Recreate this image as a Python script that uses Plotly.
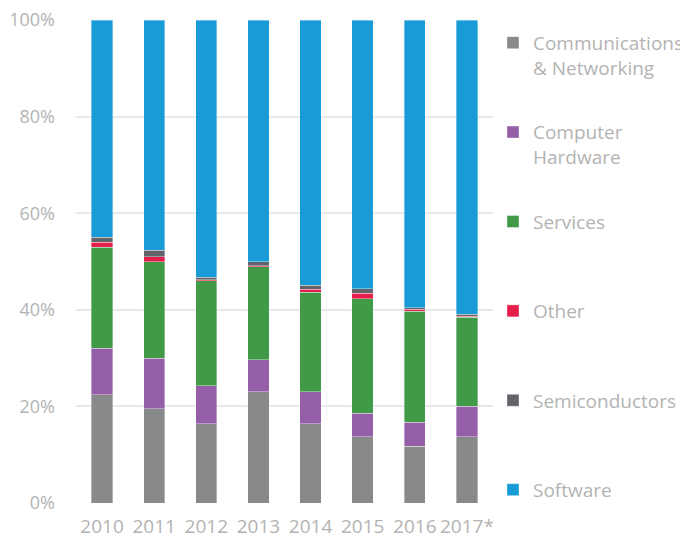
import plotly.graph_objects as go

years = ['2010', '2011', '2012', '2013', '2014', '2015', '2016', '2017*']

# share of deals per sector, % (stacked bottom to top)
comm = [22.4, 19.5, 16.4, 23.0, 16.4, 13.7, 11.7, 13.7]
hardware = [9.6, 10.5, 7.9, 6.7, 6.6, 4.9, 5.0, 6.3]
services = [21.0, 20.0, 21.7, 19.2, 20.6, 23.7, 23.0, 18.5]
other = [1.0, 1.0, 0.2, 0.2, 0.7, 1.1, 0.4, 0.2]
semis = [1.0, 1.3, 0.5, 0.9, 0.8, 1.0, 0.3, 0.4]
software = [45.0, 47.7, 53.3, 50.0, 54.9, 55.6, 59.6, 60.9]

series = [
    ('Communications<br>& Networking', comm, '#87898b'),
    ('Computer<br>Hardware', hardware, '#955fa8'),
    ('Services<br> ', services, '#409a48'),
    ('Other<br> ', other, '#e51f4b'),
    ('Semiconductors<br> ', semis, '#626469'),
    ('Software<br> ', software, '#189bd7'),
]

font_family = 'Open Sans, sans-serif'
text_color = '#b3b3b3'

fig = go.Figure()
for i, (name, vals, color) in enumerate(series):
    fig.add_trace(go.Bar(
        x=years,
        y=[v / 100 for v in vals],
        name=name,
        legendgroup=f'g{i}',
        marker=dict(color=color, line=dict(color='rgba(255,255,255,0.45)', width=0.8)),
    ))

# page body has an 8px margin, so the figure is 8px smaller than the window
fig.update_layout(
    width=680,
    height=531,
    barmode='stack',
    bargap=0.59,
    plot_bgcolor='white',
    paper_bgcolor='white',
    margin=dict(l=68, r=185, t=11.5, b=35.5),
    font=dict(family=font_family, size=19, color=text_color),
    xaxis=dict(
        showgrid=False,
        zeroline=False,
        showline=False,
        automargin=False,
        tickangle=0,
        ticklabelstandoff=10,
        tickfont=dict(size=19, color=text_color),
    ),
    yaxis=dict(
        range=[0, 1],
        tickvals=[0, 0.2, 0.4, 0.6, 0.8, 1.0],
        tickformat='.0%',
        showgrid=True,
        gridcolor='#e8e8e8',
        gridwidth=1.5,
        zeroline=False,
        automargin=False,
        ticklabelstandoff=20,
        ticklabeloverflow='allow',
        tickfont=dict(size=18, color=text_color),
    ),
    legend=dict(
        xref='container',
        yref='container',
        x=0.7132,
        xanchor='left',
        y=0.9702,
        yanchor='top',
        traceorder='grouped',
        tracegroupgap=37,
        valign='top',
        maxheight=540,
        font=dict(size=19, color=text_color),
        itemwidth=30,
    ),
)

fig.write_html('out.html')
